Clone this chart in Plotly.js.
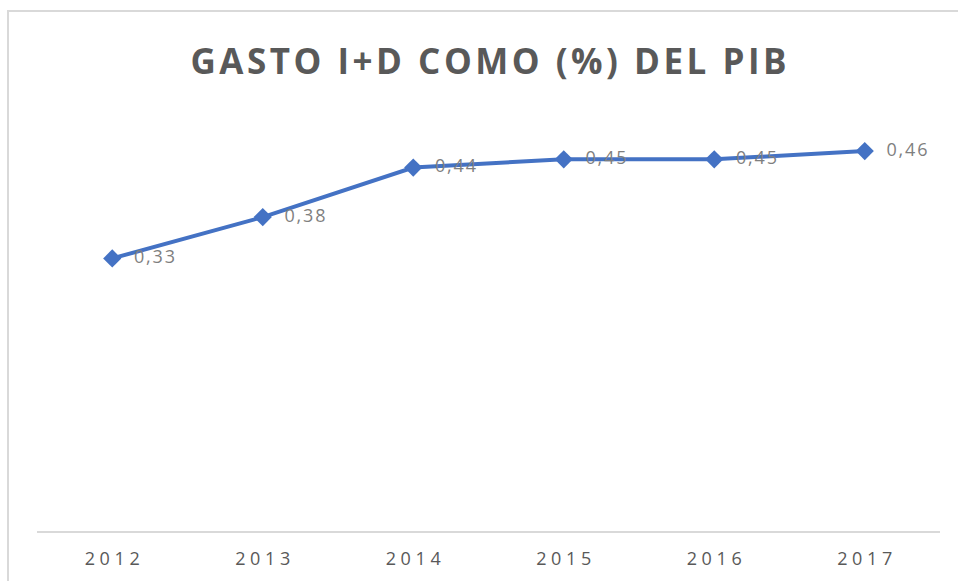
<!DOCTYPE html>
<html>
<head>
<meta charset="utf-8">
<script src="https://cdn.plot.ly/plotly-3.0.1.min.js"></script>
<style>
  html, body { margin: 0; padding: 0; background: #ffffff; }
  #frame { position: absolute; left: 7px; top: 10px; width: 960px; height: 580px;
           border-left: 2px solid #d9d9d9; border-top: 2px solid #d9d9d9; }
  #chart { position: absolute; left: 0; top: 0; width: 958px; height: 581px; }
</style>
</head>
<body>
<div id="frame"></div>
<div id="chart"></div>
<script>
const years = ["2012", "2013", "2014", "2015", "2016", "2017"];
const gastoID = [0.33, 0.38, 0.44, 0.45, 0.45, 0.46];
const chartTitle = "GASTO I+D COMO (%) DEL PIB";

const spacedWith = (s, sep) => s.split("").join(sep);
const tickText = years.map(y => spacedWith(y, " "));
const labelText = gastoID.map(v => "\u2002\u2009" + spacedWith(v.toFixed(2).replace(".", ","), "\u200A"));

const trace = {
  x: years,
  y: gastoID,
  type: "scatter",
  mode: "lines+markers+text",
  line: { color: "#4472C4", width: 4 },
  marker: { symbol: "diamond", size: 14, color: "#4472C4" },
  text: labelText,
  textposition: "middle right",
  textfont: { family: "Open Sans, sans-serif", size: 18, color: "#7f7f7f" },
  cliponaxis: false,
  hoverinfo: "skip"
};

const layout = {
  width: 958,
  height: 581,
  paper_bgcolor: "rgba(0,0,0,0)",
  plot_bgcolor: "rgba(0,0,0,0)",
  separators: ",.",
  margin: { l: 37, r: 18, t: 118, b: 50 },
  showlegend: false,
  title: {
    text: "<b>" + spacedWith(chartTitle, "\u200A") + "</b>",
    x: 0.5, xref: "paper", xanchor: "center",
    y: 1 - 62 / 581, yref: "container", yanchor: "middle",
    font: { family: "Open Sans, sans-serif", size: 35, color: "#595959" }
  },
  xaxis: {
    type: "category",
    tickvals: years,
    ticktext: tickText,
    showline: true,
    linecolor: "#d9d9d9",
    linewidth: 2,
    showgrid: false,
    ticks: "",
    ticklabelstandoff: 10,
    tickfont: { family: "Open Sans, sans-serif", size: 18, color: "#595959" },
    range: [-0.5, 5.5],
    fixedrange: true
  },
  yaxis: {
    range: [0, 0.5],
    showgrid: false,
    zeroline: false,
    showline: false,
    showticklabels: false,
    ticks: "",
    fixedrange: true
  }
};

Plotly.newPlot("chart", [trace], layout, { displayModeBar: false, staticPlot: true });
</script>
</body>
</html>
